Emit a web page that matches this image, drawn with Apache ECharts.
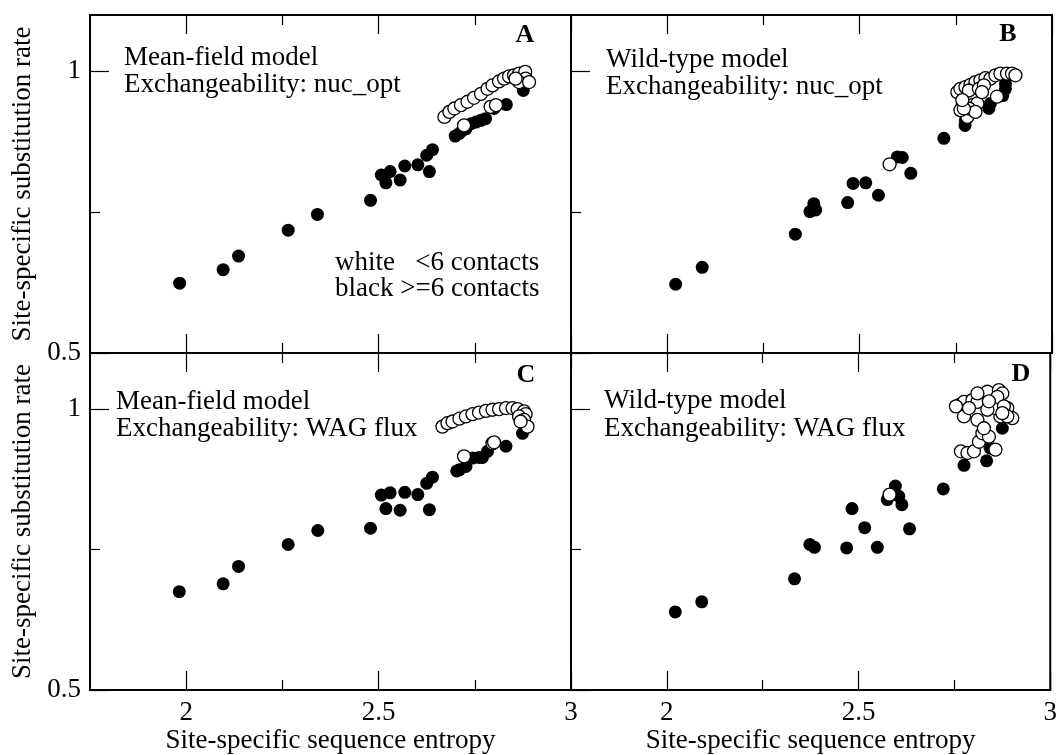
<!DOCTYPE html>
<html>
<head>
<meta charset="utf-8">
<script src="https://cdn.jsdelivr.net/npm/echarts@6/dist/echarts.min.js"></script>
<style>
  html, body { margin: 0; padding: 0; background: #fff; }
  #chart { width: 1060px; height: 755px; }
</style>
</head>
<body>
<div id="chart"></div>
<script>
// axis ticks
const xMajorTicks = [2, 2.5, 3];
const xMinorTicks = [2.25, 2.75];
const yMajorTicks = [0.5, 1];
const yMinorTicks = [0.75];

const panelLetters = ['A', 'B', 'C', 'D'];
const modelNames = ['Mean-field model', 'Wild-type model', 'Mean-field model', 'Wild-type model'];
const exchangeNames = ['Exchangeability: nuc_opt', 'Exchangeability: nuc_opt',
    'Exchangeability: WAG flux', 'Exchangeability: WAG flux'];
const xAxisTitle = 'Site-specific sequence entropy';
const yAxisTitle = 'Site-specific substitution rate';
const legendLines = ['white   <6 contacts', 'black >=6 contacts'];

// [entropy, rate] ; black = >=6 contacts, white = <6 contacts
const aBlack = [[1.983, 0.624], [2.096, 0.648], [2.136, 0.672], [2.265, 0.718], [2.341, 0.746],
    [2.479, 0.771], [2.507, 0.816], [2.530, 0.822], [2.519, 0.802], [2.556, 0.807], [2.568, 0.832],
    [2.602, 0.834], [2.632, 0.822], [2.625, 0.851], [2.640, 0.861], [2.699, 0.885], [2.710, 0.890],
    [2.718, 0.895], [2.727, 0.898], [2.740, 0.907], [2.753, 0.910], [2.766, 0.913], [2.778, 0.916],
    [2.800, 0.934], [2.832, 0.941], [2.876, 0.966]];
const aWhite = [[2.671, 0.919], [2.684, 0.928], [2.697, 0.934], [2.714, 0.940], [2.731, 0.946],
    [2.748, 0.953], [2.766, 0.960], [2.783, 0.969], [2.796, 0.975], [2.813, 0.982], [2.826, 0.987],
    [2.839, 0.991], [2.852, 0.993], [2.865, 0.996], [2.881, 0.999], [2.882, 0.987], [2.865, 0.981],
    [2.891, 0.981], [2.856, 0.987], [2.722, 0.904], [2.791, 0.937], [2.805, 0.940]];

const bBlack = [[2.022, 0.622], [2.091, 0.652], [2.333, 0.711], [2.371, 0.751], [2.381, 0.765],
    [2.386, 0.754], [2.469, 0.767], [2.483, 0.801], [2.516, 0.802], [2.549, 0.780], [2.598, 0.848],
    [2.611, 0.847], [2.633, 0.819], [2.719, 0.881], [2.774, 0.904], [2.775, 0.913], [2.836, 0.934],
    [2.840, 0.943], [2.872, 0.957], [2.879, 0.969], [2.879, 0.978]];
const bWhite = [[2.578, 0.835], [2.780, 0.919], [2.767, 0.937], [2.793, 0.940], [2.806, 0.943],
    [2.857, 0.955], [2.754, 0.963], [2.762, 0.969], [2.775, 0.972], [2.788, 0.976], [2.801, 0.981],
    [2.814, 0.984], [2.827, 0.988], [2.840, 0.987], [2.853, 0.993], [2.866, 0.996], [2.883, 0.996],
    [2.896, 0.996], [2.905, 0.993], [2.784, 0.966], [2.810, 0.969], [2.823, 0.975], [2.818, 0.963],
    [2.762, 0.931], [2.784, 0.934], [2.801, 0.928], [2.771, 0.934], [2.767, 0.949]];

const cBlack = [[1.982, 0.675], [2.096, 0.689], [2.136, 0.720], [2.265, 0.759], [2.342, 0.784],
    [2.479, 0.788], [2.507, 0.847], [2.530, 0.851], [2.519, 0.823], [2.556, 0.820], [2.568, 0.852],
    [2.602, 0.848], [2.632, 0.821], [2.625, 0.868], [2.640, 0.879], [2.703, 0.890], [2.710, 0.892],
    [2.727, 0.898], [2.744, 0.913], [2.761, 0.914], [2.770, 0.914], [2.783, 0.925], [2.831, 0.934],
    [2.874, 0.957]];
const cWhite = [[2.666, 0.969], [2.679, 0.975], [2.692, 0.978], [2.710, 0.983], [2.727, 0.987],
    [2.744, 0.991], [2.761, 0.994], [2.779, 0.997], [2.796, 0.999], [2.813, 1.000], [2.831, 1.002],
    [2.848, 1.002], [2.861, 1.000], [2.878, 0.996], [2.882, 0.991], [2.865, 0.987], [2.878, 0.981],
    [2.887, 0.969], [2.869, 0.978], [2.722, 0.916], [2.796, 0.939], [2.800, 0.941]];

const dBlack = [[2.022, 0.639], [2.091, 0.657], [2.333, 0.698], [2.373, 0.759], [2.385, 0.754],
    [2.469, 0.753], [2.483, 0.823], [2.516, 0.789], [2.549, 0.754], [2.575, 0.839], [2.596, 0.863],
    [2.605, 0.845], [2.613, 0.830], [2.633, 0.787], [2.721, 0.858], [2.775, 0.900], [2.834, 0.908],
    [2.843, 0.931], [2.875, 0.966]];
const dWhite = [[2.581, 0.848], [2.767, 0.925], [2.784, 0.922], [2.801, 0.925], [2.814, 0.942],
    [2.823, 0.957], [2.840, 0.951], [2.857, 0.928], [2.810, 0.981], [2.827, 0.966], [2.762, 1.007],
    [2.775, 1.013], [2.797, 1.016], [2.810, 1.013], [2.836, 1.031], [2.866, 1.034], [2.875, 1.028],
    [2.888, 1.002], [2.901, 0.984], [2.870, 0.987], [2.775, 0.987], [2.754, 1.005], [2.844, 1.010],
    [2.857, 1.002], [2.836, 0.999], [2.788, 1.002], [2.810, 1.028], [2.862, 1.022], [2.879, 1.005],
    [2.888, 0.987], [2.875, 0.993], [2.840, 1.014]];

const blackSets = [aBlack, bBlack, cBlack, dBlack];
const whiteSets = [aWhite, bWhite, cWhite, dWhite];

const FONT = '"Liberation Serif", "Times New Roman", serif';

const grids = [
    { left: 90, top: 15, width: 481, height: 338 },
    { left: 571, top: 15, width: 481, height: 338 },
    { left: 90, top: 353, width: 481, height: 339 },
    { left: 571, top: 353, width: 481, height: 339 },
];
// per panel: text left/centre, letter centre
const textPos = [[124, 58, 85], [606, 60, 87], [116, 402, 429], [604, 401, 429]];
const letterPos = [[525, 35], [1008, 34], [526, 375], [1021, 374]];

const tickAxis = (gi, pos, values, len) => ({
    gridIndex: gi,
    type: 'value',
    position: pos,
    min: 1.75,
    max: 3,
    axisLine: { show: false },
    splitLine: { show: false },
    axisTick: { inside: true, length: len, customValues: values, lineStyle: { color: '#000', width: 1.2 } },
    axisLabel: { show: false },
});

const xAxes = [];
const yAxes = [];
const series = [];
const graphic = [];

grids.forEach((g, i) => {
    const bottomRow = i >= 2;
    const leftCol = i % 2 === 0;

    const xMain = tickAxis(i, 'bottom', xMajorTicks, 19);
    if (bottomRow) {
        xMain.axisLabel = {
            show: true, customValues: xMajorTicks, margin: 9,
            color: '#000', fontSize: 27, fontFamily: FONT,
        };
        xMain.name = xAxisTitle;
        xMain.nameLocation = 'middle';
        xMain.nameGap = 37;
        xMain.nameTextStyle = { color: '#000', fontSize: 27, fontFamily: FONT };
    }
    xAxes.push(xMain,
        tickAxis(i, 'bottom', xMinorTicks, 10),
        tickAxis(i, 'top', xMajorTicks, 19),
        tickAxis(i, 'top', xMinorTicks, 10));

    const yBase = {
        gridIndex: i, type: 'value', position: 'left', min: 0.5, max: 1.1,
        axisLine: { show: false }, splitLine: { show: false },
    };
    const yMain = Object.assign({}, yBase, {
        axisTick: { inside: true, length: 19, customValues: yMajorTicks, lineStyle: { color: '#000', width: 1.2 } },
        axisLabel: leftCol
            ? { show: true, customValues: yMajorTicks, margin: 9, color: '#000', fontSize: 27, fontFamily: FONT }
            : { show: false },
    });
    if (leftCol) {
        yMain.name = yAxisTitle;
        yMain.nameLocation = 'middle';
        yMain.nameGap = 54;
        yMain.nameRotate = 90;
        yMain.nameTextStyle = { color: '#000', fontSize: 27, fontFamily: FONT };
    }
    yAxes.push(yMain, Object.assign({}, yBase, {
        axisTick: { inside: true, length: 10, customValues: yMinorTicks, lineStyle: { color: '#000', width: 1.2 } },
        axisLabel: { show: false },
    }));

    series.push({
        type: 'scatter', xAxisIndex: 4 * i, yAxisIndex: 2 * i,
        data: blackSets[i], symbolSize: 13,
        itemStyle: { color: '#000', opacity: 1 },
        silent: true,
    }, {
        type: 'scatter', xAxisIndex: 4 * i, yAxisIndex: 2 * i,
        data: whiteSets[i], symbolSize: 13,
        itemStyle: { color: '#fff', borderColor: '#000', borderWidth: 1.3, opacity: 1 },
        silent: true,
    });

    const [tx, ty1, ty2] = textPos[i];
    [[modelNames[i], ty1], [exchangeNames[i], ty2]].forEach(([t, ty]) => {
        graphic.push({
            type: 'text', left: tx, top: ty - 14,
            style: { text: t, fill: '#000', font: `27px ${FONT}` },
        });
    });
    graphic.push({
        type: 'text', x: letterPos[i][0], y: letterPos[i][1],
        style: {
            text: panelLetters[i], fill: '#000', font: `bold 26px ${FONT}`,
            align: 'center', verticalAlign: 'middle',
        },
    });
});

legendLines.forEach((t, k) => {
    graphic.push({
        type: 'text', left: 335, top: [263, 289][k] - 14,
        style: { text: t, fill: '#000', font: `27px ${FONT}` },
    });
});

const chart = echarts.init(document.getElementById('chart'), null, { renderer: 'canvas' });
chart.setOption({
    animation: false,
    backgroundColor: '#fff',
    grid: grids.map(g => Object.assign({
        show: true, borderColor: '#000', borderWidth: 2, backgroundColor: 'transparent',
    }, g)),
    xAxis: xAxes,
    yAxis: yAxes,
    series,
    graphic,
});
</script>
</body>
</html>
